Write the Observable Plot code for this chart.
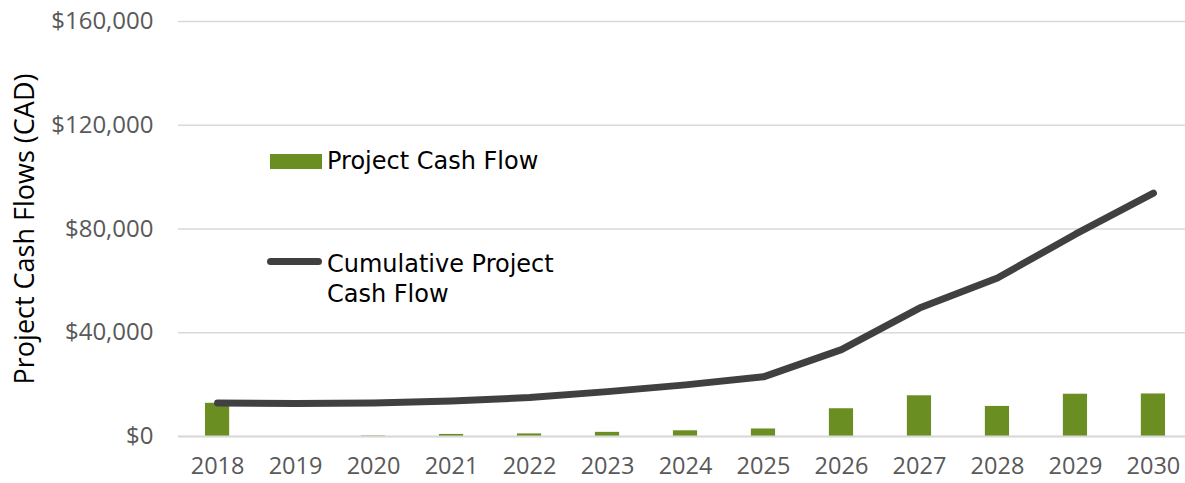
<!DOCTYPE html>
<html>
<head>
<meta charset="utf-8">
<script src="https://cdn.jsdelivr.net/npm/d3@7"></script>
<script src="https://cdn.jsdelivr.net/npm/@observablehq/plot@0.6"></script>
<style>
  html, body { margin: 0; padding: 0; background: #fff; overflow: hidden; }
  #wrap { position: relative; width: 1185px; height: 483px; overflow: hidden; }
  .legend { position: absolute; left: 0; top: 0; font-family: "DejaVu Sans", sans-serif; font-size: 24px; color: #000; }
  .legend .item { position: absolute; }
  .legend .txt { position: absolute; line-height: 30px; white-space: nowrap; }
</style>
</head>
<body>
<div id="wrap"></div>
<script>
const years = ["2018","2019","2020","2021","2022","2023","2024","2025","2026","2027","2028","2029","2030"];
const cashFlow = [12800, -200, 200, 800, 1000, 1600, 2200, 2900, 10700, 15700, 11600, 16300, 16400];
const cumulative = [12900, 12700, 12900, 13700, 15000, 17300, 19900, 23000, 33500, 49500, 61100, 78000, 93800];
const yTicks = [0, 40000, 80000, 120000, 160000];
const yTitle = "Project Cash Flows (CAD)";
const legendLabels = ["Project Cash Flow", "Cumulative Project\nCash Flow"];

const barColor = "#6B8E23";
const lineColor = "#404040";

const data = years.map((y, i) => ({year: y, cash: cashFlow[i], cum: cumulative[i]}));

const chart = Plot.plot({
  width: 1185,
  height: 483,
  marginLeft: 178,
  marginRight: 0,
  marginTop: 21,
  marginBottom: 47,
  style: {fontFamily: "'Open Sans', sans-serif", background: "#fff", overflow: "hidden"},
  x: {domain: years, range: [178, 1192], round: false, paddingInner: 0.69, paddingOuter: 0.346, label: null},
  y: {domain: [0, 160000], label: null},
  marks: [
    Plot.gridY(yTicks, {stroke: "#d9d9d9", strokeOpacity: 1, strokeWidth: 1.5}),
    Plot.axisY(yTicks, {tickSize: 0, tickPadding: 25, fontSize: 24, fill: "#595959", tickFormat: d3.format("$,"), label: null}),
    Plot.axisX({tickSize: 0, tickPadding: 21, fontSize: 23.5, fill: "#595959", label: null}),
    Plot.barY(data, {x: "year", y: "cash", fill: barColor}),
    Plot.ruleY([0], {stroke: "#d9d9d9", strokeWidth: 2}),
    Plot.line(data, {x: "year", y: "cum", stroke: lineColor, strokeWidth: 7, strokeLinecap: "round", strokeLinejoin: "round"}),
    Plot.text([yTitle], {frameAnchor: "left", textAnchor: "middle", rotate: -90, dx: -153, fontSize: 27, fill: "#000", fontFamily: "'Open Sans', sans-serif"})
  ]
});
const wrap = document.getElementById("wrap");
wrap.appendChild(chart);

// Legend overlay
const leg = document.createElement("div");
leg.className = "legend";
leg.innerHTML = `
  <div class="item" style="left:270px;top:154px;width:52px;height:15px;background:${barColor}"></div>
  <div class="txt" style="left:327px;top:146px;">${legendLabels[0]}</div>
  <div class="item" style="left:267px;top:258px;width:55px;height:7px;border-radius:4px;background:${lineColor}"></div>
  <div class="txt" style="left:327px;top:249px;">${legendLabels[1].replace("\n","<br>")}</div>
`;
wrap.appendChild(leg);
</script>
</body>
</html>
